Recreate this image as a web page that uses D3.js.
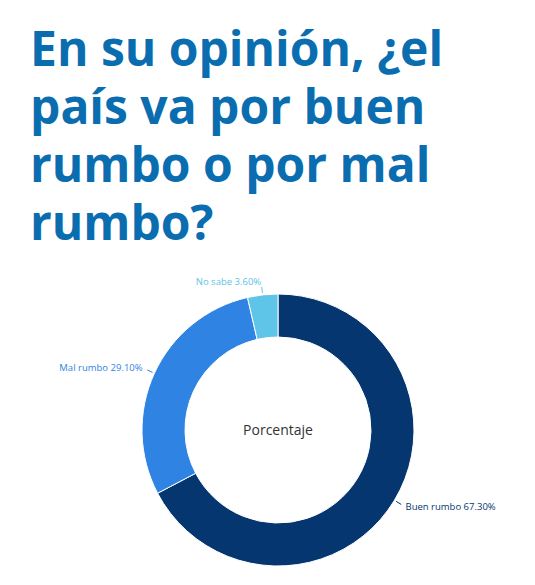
<!DOCTYPE html>
<html><head><meta charset="utf-8">
<script src="https://cdn.jsdelivr.net/npm/d3@7"></script>
<style>body{margin:0;background:#fff;font-family:"Open Sans",sans-serif}</style>
</head><body><div id="root"></div>
<script>
var WIDTH = 535, HEIGHT = 585;
var categories = ["Buen rumbo", "Mal rumbo", "No sabe"];
var values = [67.3, 29.1, 3.6];
var colors = ["#06366f", "#2f83e3", "#5ec4e8"];
var titleLines = ["En su opinión, ¿el", "país va por buen", "rumbo o por mal", "rumbo?"];

var svg = d3.select("#root").append("svg").attr("width", WIDTH).attr("height", HEIGHT);

svg.selectAll("text.title").data(titleLines).enter().append("text")
  .attr("x", 30).attr("y", function(d, i) { return 66 + i * 58; })
  .attr("fill", "#0a6db0").attr("font-size", 48).attr("font-weight", "bold")
  .attr("font-family", "Open Sans, sans-serif")
  .text(function(d) { return d; });

var cx = 278, cy = 430, R = 136, r = 93;
var g = svg.append("g").attr("transform", "translate(" + cx + "," + cy + ")");
var pie = d3.pie().sort(null)(values);
var arc = d3.arc().innerRadius(r).outerRadius(R);

g.selectAll("path").data(pie).enter().append("path")
  .attr("d", arc).attr("fill", function(d, i) { return colors[i]; })
  .attr("stroke", "#fff").attr("stroke-width", 1);

// labels
pie.forEach(function(d, i) {
  var a = (d.startAngle + d.endAngle) / 2;
  var s = Math.sin(a), c = -Math.cos(a);
  g.append("line")
    .attr("x1", s * (R + 2)).attr("y1", c * (R + 2))
    .attr("x2", s * (R + 8)).attr("y2", c * (R + 8))
    .attr("stroke", colors[i]);
  var tx = s * (R + 13), ty = c * (R + 13);
  g.append("text")
    .attr("x", tx).attr("y", ty + 3)
    .attr("text-anchor", s < 0 ? "end" : "start")
    .attr("font-size", 9.5).attr("fill", colors[i])
    .attr("font-family", "Liberation Sans Narrow, Open Sans, sans-serif")
    .text(categories[i] + " " + values[i].toFixed(2) + "%");
});

g.append("text").attr("text-anchor", "middle").attr("y", 5)
  .attr("font-size", 14).attr("fill", "#333")
  .attr("font-family", "Open Sans, sans-serif").text("Porcentaje");
</script></body></html>
